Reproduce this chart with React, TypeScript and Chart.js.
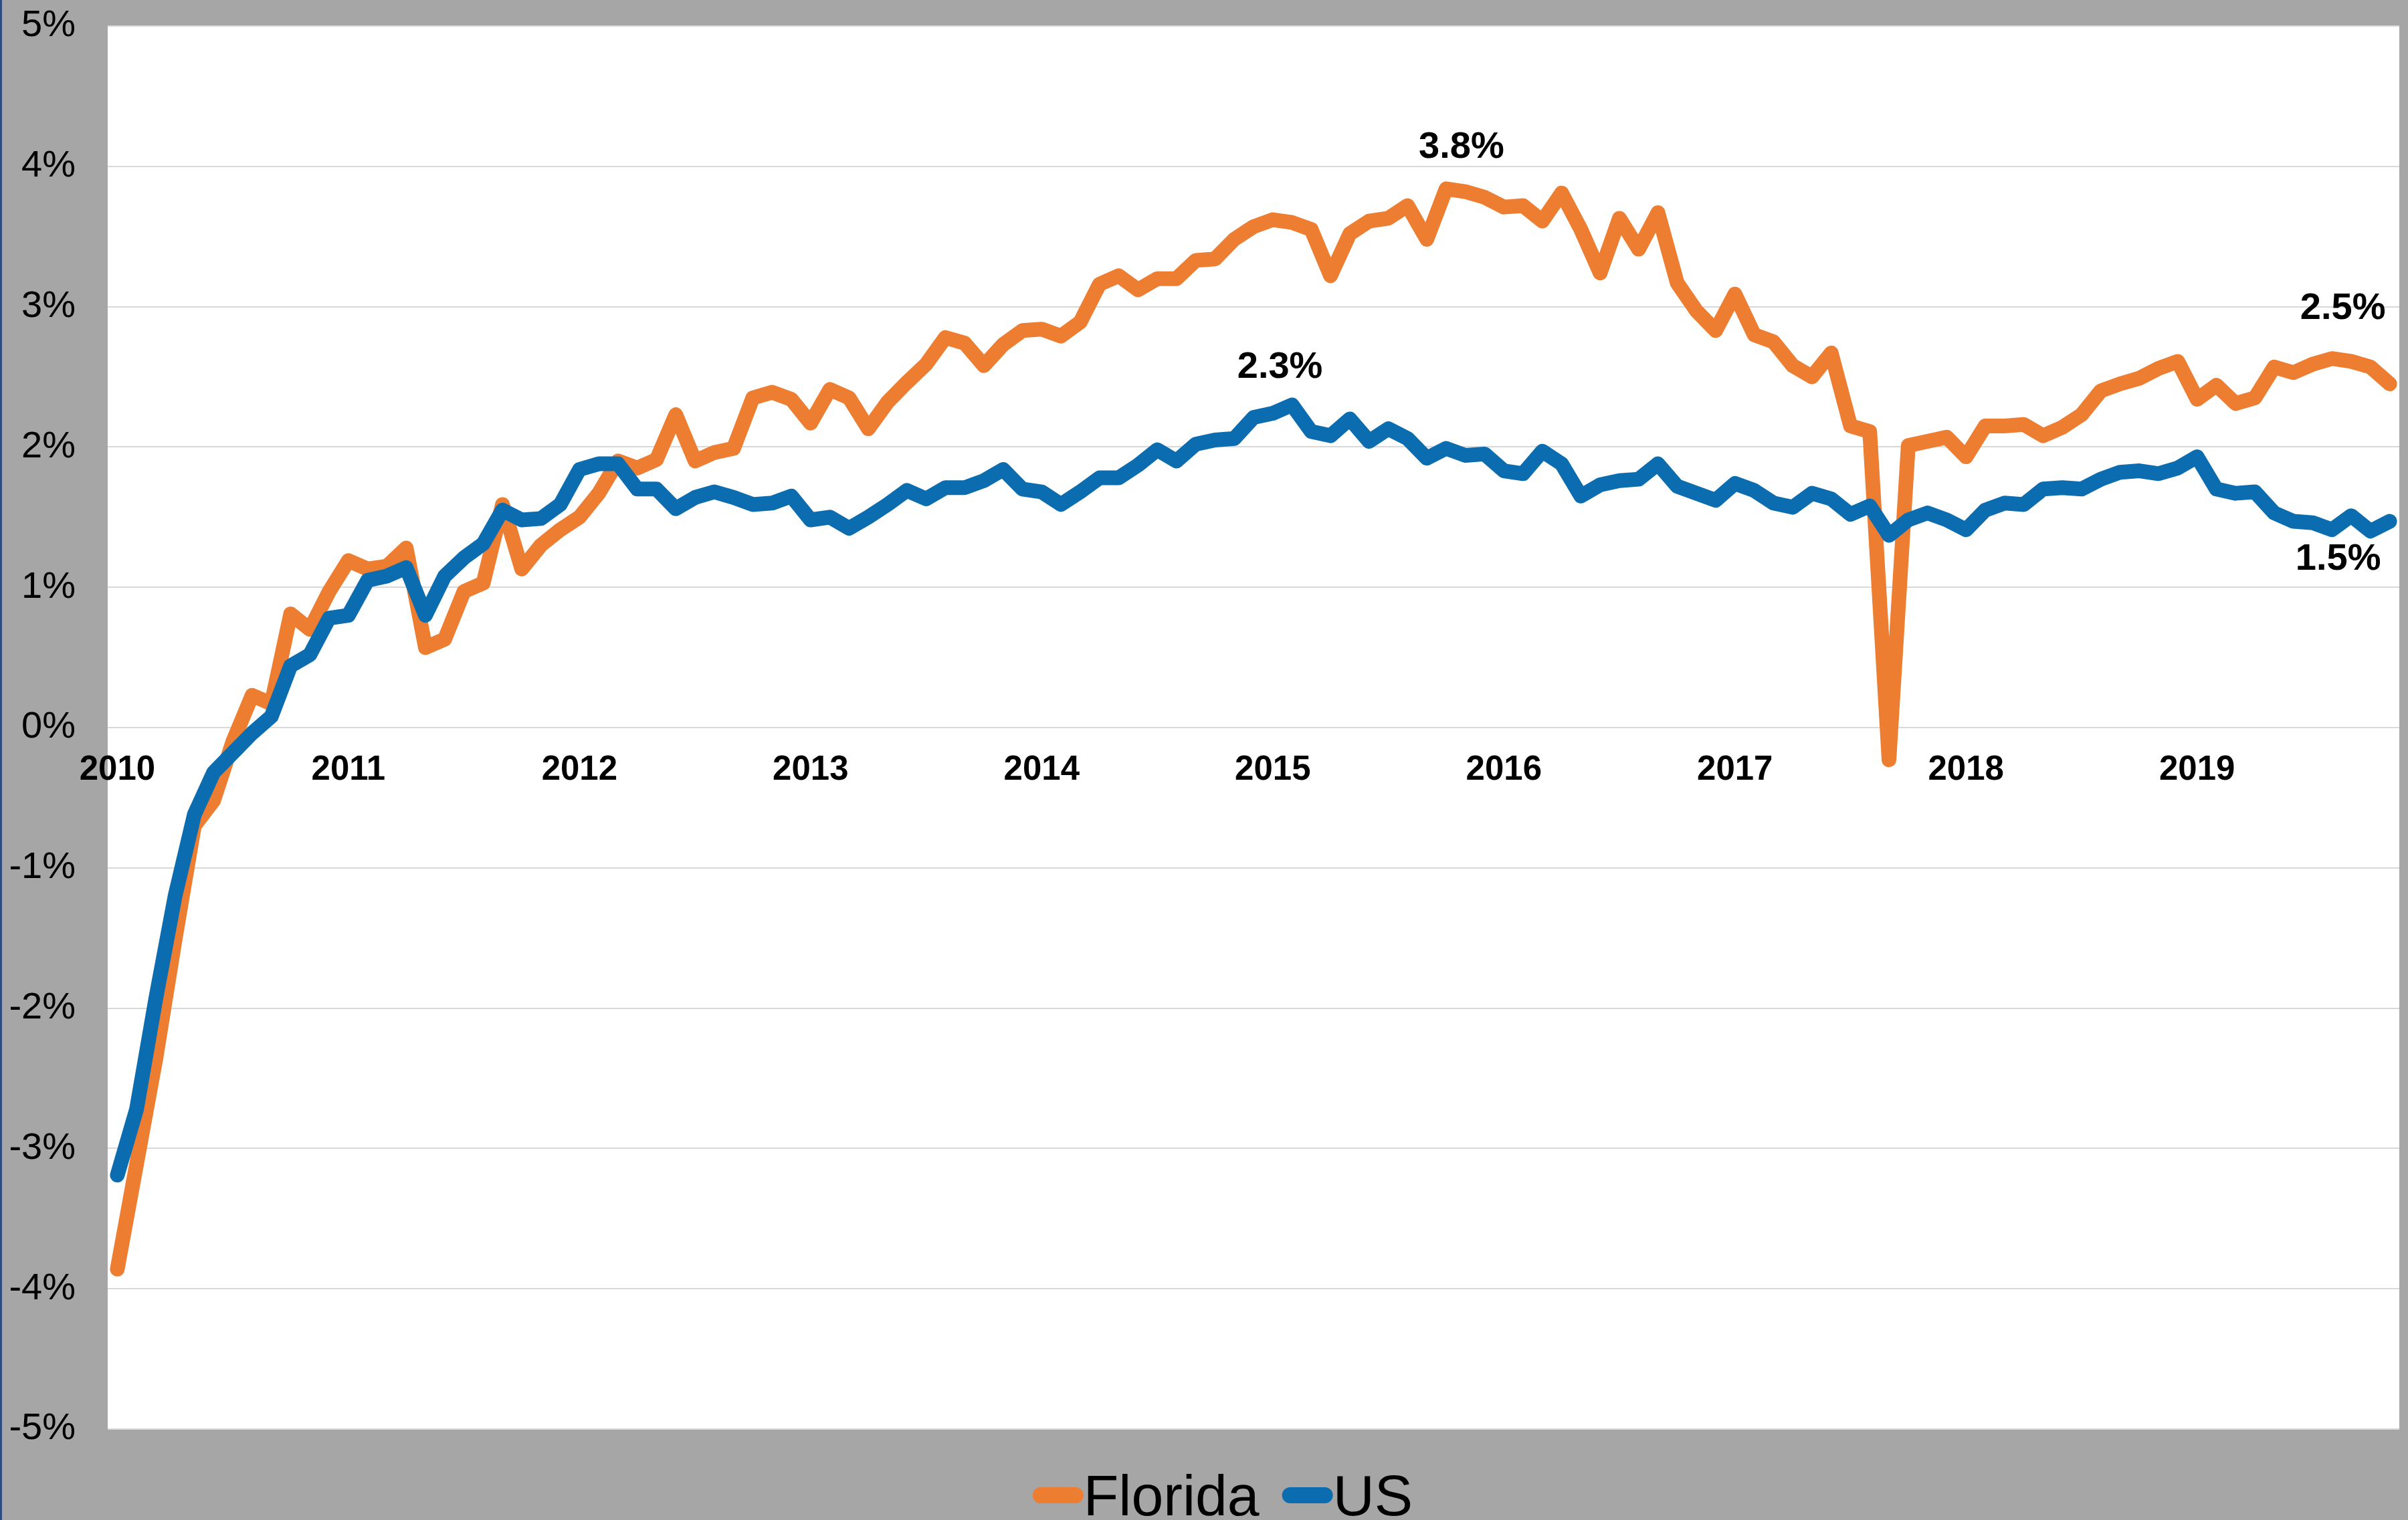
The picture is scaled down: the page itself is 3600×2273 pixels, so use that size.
import React, { useEffect, useRef } from 'react';
import { Chart, registerables } from 'chart.js';

Chart.register(...registerables);

// ---------- data ----------
const YEARS = ['2010', '2011', '2012', '2013', '2014', '2015', '2016', '2017', '2018', '2019'];

const FLORIDA = [
  -3.86, -3.11, -2.36, -1.51, -0.70, -0.52, -0.10, 0.23, 0.17, 0.81, 0.70, 0.97,
  1.19, 1.13, 1.15, 1.28, 0.57, 0.63, 0.97, 1.03, 1.59, 1.13, 1.30, 1.41,
  1.50, 1.67, 1.90, 1.85, 1.91, 2.23, 1.90, 1.96, 1.99, 2.35, 2.39, 2.34,
  2.17, 2.41, 2.35, 2.13, 2.32, 2.46, 2.59, 2.78, 2.74, 2.58, 2.73, 2.83,
  2.84, 2.79, 2.89, 3.16, 3.22, 3.12, 3.20, 3.20, 3.33, 3.34, 3.48, 3.57,
  3.62, 3.60, 3.55, 3.22, 3.52, 3.61, 3.63, 3.72, 3.48, 3.84, 3.82, 3.78,
  3.71, 3.72, 3.61, 3.81, 3.55, 3.24, 3.63, 3.41, 3.67, 3.17, 2.97, 2.83,
  3.09, 2.80, 2.75, 2.58, 2.50, 2.67, 2.15, 2.11, -0.23, 2.01, 2.04, 2.07,
  1.93, 2.15, 2.15, 2.16, 2.08, 2.14, 2.23, 2.40, 2.45, 2.49, 2.56, 2.61,
  2.34, 2.44, 2.31, 2.35, 2.57, 2.53, 2.59, 2.63, 2.61, 2.57, 2.45,
];

const US = [
  -3.19, -2.72, -1.93, -1.20, -0.62, -0.32, -0.18, -0.04, 0.08, 0.44, 0.52, 0.78,
  0.80, 1.05, 1.08, 1.14, 0.80, 1.08, 1.21, 1.31, 1.55, 1.48, 1.49, 1.59,
  1.84, 1.88, 1.88, 1.70, 1.70, 1.56, 1.64, 1.68, 1.64, 1.59, 1.60, 1.65,
  1.48, 1.50, 1.42, 1.50, 1.59, 1.69, 1.63, 1.71, 1.71, 1.76, 1.84, 1.70,
  1.68, 1.59, 1.68, 1.78, 1.78, 1.87, 1.98, 1.90, 2.02, 2.05, 2.06, 2.21,
  2.24, 2.30, 2.11, 2.08, 2.20, 2.04, 2.13, 2.06, 1.92, 1.99, 1.94, 1.95,
  1.83, 1.81, 1.97, 1.88, 1.65, 1.73, 1.76, 1.77, 1.88, 1.72, 1.67, 1.62,
  1.74, 1.69, 1.60, 1.57, 1.67, 1.63, 1.52, 1.58, 1.37, 1.48, 1.53, 1.48,
  1.41, 1.55, 1.60, 1.59, 1.70, 1.71, 1.70, 1.77, 1.82, 1.83, 1.81, 1.85,
  1.93, 1.70, 1.67, 1.68, 1.53, 1.47, 1.46, 1.41, 1.51, 1.40, 1.47,
];

const SERIES_NAMES = ['Florida', 'US'];

// month categories, Jan 2010 onward
const MONTH_LABELS = FLORIDA.map(
  (_, i) => `${YEARS[Math.floor(i / 12)]}-${String((i % 12) + 1).padStart(2, '0')}`
);

// callouts: which series / which month / text
const CALLOUT_SERIES = [0, 1, 0, 1];
const CALLOUT_INDEX = [69, 61, 118, 118];
const CALLOUT_TEXT = ['3.8%', '2.3%', '2.5%', '1.5%'];

// ---------- styles ----------
const W = 3600;
const H = 2273;
const ORANGE = '#ED7D31';
const BLUE = '#0B6CB0';
const GRAY_BG = '#A6A6A6';
const GRID = '#D9D9D9';
const FONT = "'Liberation Sans', Arial, sans-serif";
const LINE_W = 22;
const CALLOUT_OFFSETS = [
  [23, -62],
  [-18, -56],
  [-70, -112],
  [-77, 57],
];

const backgroundPlugin = {
  id: 'panelBackground',
  beforeDraw(chart: any) {
    const { ctx, width, height, chartArea } = chart;
    ctx.save();
    ctx.fillStyle = GRAY_BG;
    ctx.fillRect(0, 0, width, height);
    ctx.fillStyle = '#FFFFFF';
    ctx.fillRect(chartArea.left, chartArea.top, chartArea.right - chartArea.left, chartArea.bottom - chartArea.top);
    ctx.fillStyle = '#2F4C80';
    ctx.fillRect(0, 0, 3, height);
    ctx.restore();
  },
};

const calloutPlugin = {
  id: 'callouts',
  afterDatasetsDraw(chart: any) {
    const { ctx } = chart;
    ctx.save();
    ctx.font = `bold 56px ${FONT}`;
    ctx.fillStyle = '#000000';
    ctx.textAlign = 'center';
    ctx.textBaseline = 'middle';
    CALLOUT_TEXT.forEach((txt, k) => {
      const meta = chart.getDatasetMeta(CALLOUT_SERIES[k]);
      const el = meta.data[CALLOUT_INDEX[k]];
      if (!el) return;
      ctx.fillText(txt, el.x + CALLOUT_OFFSETS[k][0], el.y + CALLOUT_OFFSETS[k][1]);
    });
    ctx.restore();
  },
};

const legendPlugin = {
  id: 'lineLegend',
  afterDraw(chart: any) {
    const { ctx } = chart;
    ctx.save();
    ctx.font = `86px ${FONT}`;
    const markerW = 76;
    const markerH = 24;
    const gap = 34;
    const items = chart.data.datasets.map((ds: any) => ({ text: ds.label, color: ds.borderColor }));
    const widths = items.map((it: any) => markerW + ctx.measureText(it.text).width);
    const total = widths.reduce((a: number, b: number) => a + b, 0) + gap * (items.length - 1);
    let x = 1828 - total / 2;
    const cy = 2236;
    items.forEach((it: any, i: number) => {
      ctx.strokeStyle = it.color;
      ctx.lineWidth = markerH;
      ctx.lineCap = 'round';
      ctx.beginPath();
      ctx.moveTo(x + markerH / 2, cy);
      ctx.lineTo(x + markerW - markerH / 2, cy);
      ctx.stroke();
      ctx.fillStyle = '#000000';
      ctx.textAlign = 'left';
      ctx.textBaseline = 'alphabetic';
      ctx.fillText(it.text, x + markerW, 2266);
      x += widths[i] + gap;
    });
    ctx.restore();
  },
};

export default function App() {
  const canvasRef = useRef<HTMLCanvasElement | null>(null);

  useEffect(() => {
    const canvas = canvasRef.current;
    if (!canvas) return;
    const chart = new Chart(canvas, {
      type: 'line',
      data: {
        labels: MONTH_LABELS,
        datasets: [
          {
            label: SERIES_NAMES[0],
            data: FLORIDA,
            borderColor: ORANGE,
            backgroundColor: ORANGE,
            borderWidth: LINE_W,
            borderJoinStyle: 'round',
            borderCapStyle: 'round',
            pointRadius: 0,
            tension: 0,
            order: 1,
          },
          {
            label: SERIES_NAMES[1],
            data: US,
            borderColor: BLUE,
            backgroundColor: BLUE,
            borderWidth: LINE_W,
            borderJoinStyle: 'round',
            borderCapStyle: 'round',
            pointRadius: 0,
            tension: 0,
            order: 0,
          },
        ],
      },
      options: {
        animation: false,
        responsive: false,
        devicePixelRatio: 1,
        layout: { padding: { left: 0, right: 13, top: 39, bottom: 136 } },
        plugins: {
          legend: { display: false },
          tooltip: { enabled: false },
          title: { display: false },
        },
        scales: {
          x: {
            type: 'category',
            offset: true,
            position: { y: 0 } as any,
            grid: { display: false, drawTicks: false },
            border: { display: false },
            ticks: {
              autoSkip: false,
              maxRotation: 0,
              minRotation: 0,
              padding: 33,
              color: '#000000',
              font: { family: FONT, size: 51, weight: 'bold' },
              callback: (_v: any, index: number) => (index % 12 === 0 ? YEARS[index / 12] : null),
            },
          },
          y: {
            min: -5,
            max: 5,
            afterFit: (scale: any) => {
              scale.width = 161;
              scale.paddingTop = 0;
              scale.paddingBottom = 0;
            },
            grid: { color: GRID, lineWidth: 2, drawTicks: false },
            border: { display: false },
            ticks: {
              stepSize: 1,
              padding: 48,
              color: '#000000',
              font: { family: FONT, size: 56 },
              callback: (v: any) => `${v}%`,
            },
          },
        },
      },
      plugins: [backgroundPlugin, calloutPlugin, legendPlugin],
    });
    return () => chart.destroy();
  }, []);

  return (
    <div style={{ position: 'absolute', left: 0, top: 0, width: W, height: H }}>
      <canvas ref={canvasRef} width={W} height={H} style={{ display: 'block', width: W, height: H }} />
    </div>
  );
}
